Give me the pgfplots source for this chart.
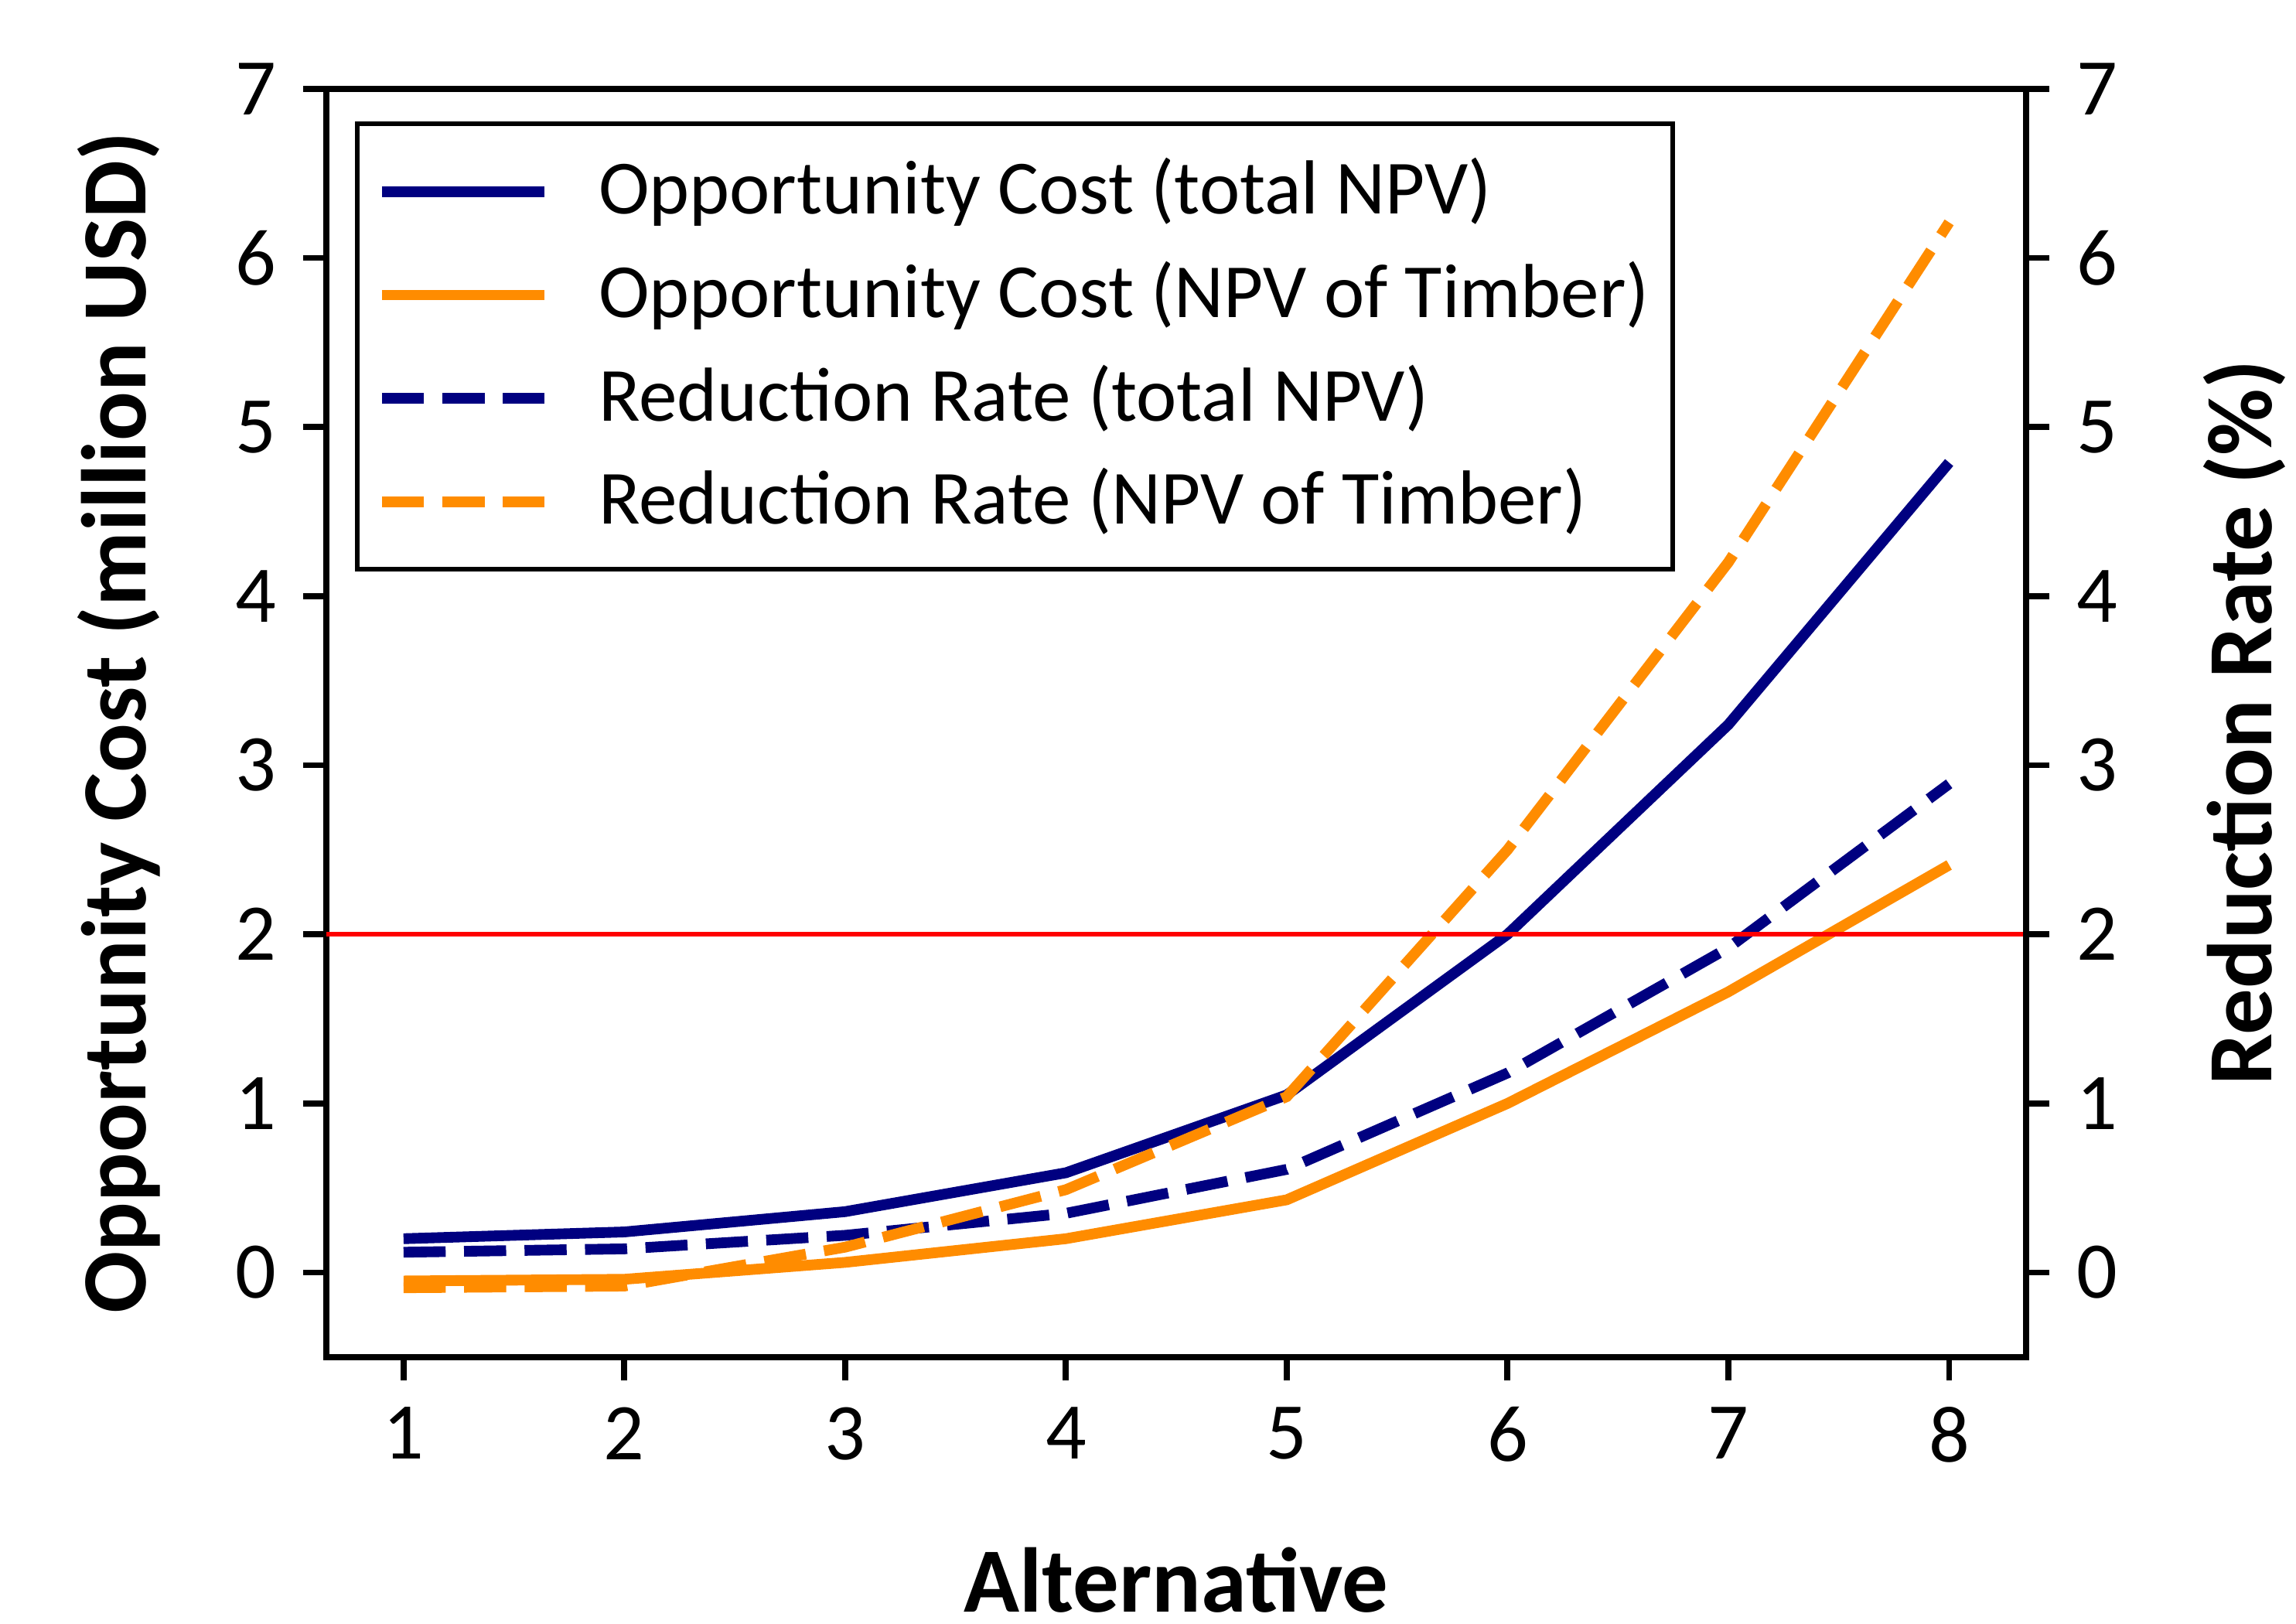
\documentclass[border=0pt]{standalone}
\usepackage{fontspec}
\setmainfont{Carlito}
\usepackage{pgfplots}
\pgfplotsset{compat=1.18}
\definecolor{navyc}{RGB}{0,0,128}
\definecolor{orangec}{RGB}{255,140,0}

\pgfplotsset{
  common/.style={
    scale only axis,
    width=222pt, height=165.6pt,
    xmin=0.65, xmax=8.35, ymin=-0.5, ymax=7,
    ytick={0,1,...,7},
    tick align=outside,
    major tick length=3pt,
    tick style={black, line width=0.8pt},
    axis line style={line width=0.8pt},
    tick label style={font=\fontsize{10.5}{12}\selectfont},
    /pgf/number format/assume math mode=true,
    label style={font=\fontsize{12}{14}\selectfont\bfseries},
  },
}

\begin{document}
\begin{tikzpicture}
\begin{axis}[
    common,
    xtick={1,...,8},
    xtick pos=bottom,
    ytick pos=left,
    xlabel={Alternative},
    ylabel={Opportunity Cost (million USD)},
    xlabel style={at={(axis description cs:0.5,-0.176)}, anchor=center},
    ylabel style={at={(axis description cs:-0.122,0.5)}, anchor=center},
    legend style={at={(0.017,0.974)}, anchor=north west, draw=black,
      line width=0.6pt, font=\fontsize{10}{12}\selectfont,
      nodes={inner xsep=0.5pt},
      row sep=0.7pt, inner xsep=2.5pt, inner ysep=2.4pt},
    legend cell align=left,
    legend image code/.code={
      \draw[#1] (0.5pt,0pt) -- (21.7pt,0pt);
      \path[draw=none] (0pt,0pt) -- (28.3pt,0pt);},
  ]
\coordinate (bl) at (rel axis cs:0,0);
\coordinate (tr) at (rel axis cs:1,1);

\addplot[navyc, line width=1.4pt] coordinates {
  (1,0.20) (2,0.24) (3,0.36) (4,0.59) (5,1.05) (6,2.00) (7,3.24) (8,4.79)
};
\addlegendentry{Opportunity Cost (total NPV)}

\addplot[orangec, line width=1.4pt] coordinates {
  (1,-0.05) (2,-0.04) (3,0.06) (4,0.20) (5,0.43) (6,1.00) (7,1.66) (8,2.41)
};
\addlegendentry{Opportunity Cost (NPV of Timber)}

\addplot[navyc, line width=1.4pt, dash pattern=on 5.5pt off 2.4pt] coordinates {
  (1,0.12) (2,0.14) (3,0.22) (4,0.35) (5,0.61) (6,1.18) (7,1.92) (8,2.89)
};
\addlegendentry{Reduction Rate (total NPV)}

\addplot[orangec, line width=1.4pt, dash pattern=on 5.5pt off 2.4pt] coordinates {
  (1,-0.09) (2,-0.08) (3,0.15) (4,0.49) (5,1.04) (6,2.50) (7,4.20) (8,6.21)
};
\addlegendentry{Reduction Rate (NPV of Timber)}

\addplot[red, line width=0.6pt, forget plot] coordinates {(0.65,2) (8.35,2)};
\end{axis}

\begin{axis}[
    common,
    axis x line=none,
    axis y line*=right,
    ytick pos=right,
    yticklabel pos=right,
    ylabel={Reduction Rate (\%)},
    ylabel style={at={(axis description cs:1.128,0.5)}, anchor=center, rotate=0},
  ]
\end{axis}

\pgfresetboundingbox
\path[use as bounding box] ([shift={(-42.6pt,-34.8pt)}]bl) rectangle ([shift={(35.2pt,11.6pt)}]tr);
\end{tikzpicture}
\end{document}
